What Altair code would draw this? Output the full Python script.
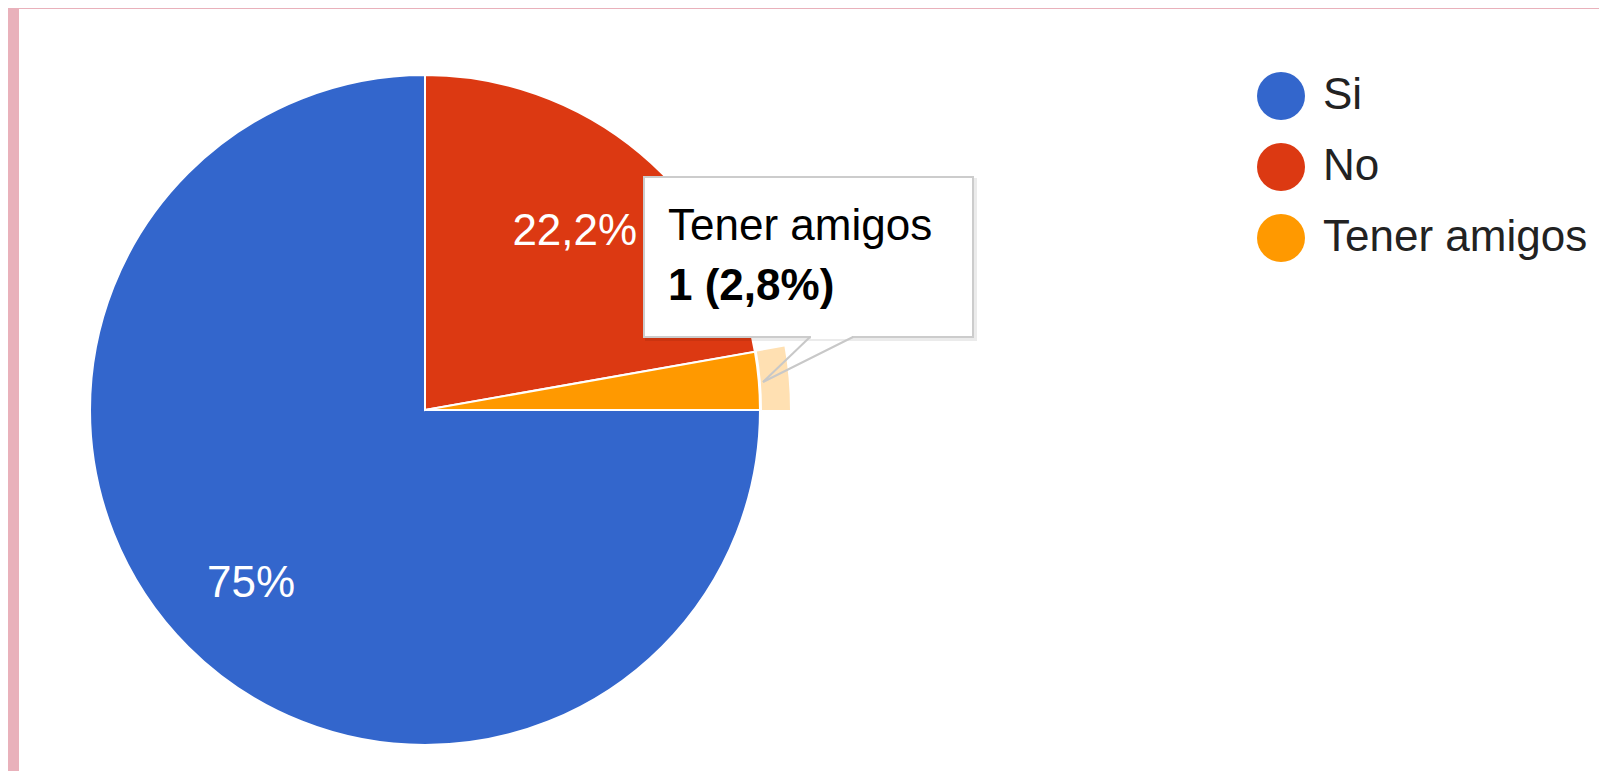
import math
import altair as alt
import pandas as pd

# ---- data ----
categories = ["Si", "No", "Tener amigos"]
counts = [27, 8, 1]
colors = ["#3366cc", "#dc3912", "#ff9900"]

total = sum(counts)


def pct(v):
    p = round(v / total * 100, 1)
    s = f"{p:.1f}".replace(".", ",")
    if s.endswith(",0"):
        s = s[:-2]
    return s + "%"


labels = [pct(v) for v in counts]
tooltip_title = categories[2]
tooltip_value = f"{counts[2]} ({labels[2]})"

df = pd.DataFrame({
    "cat": categories,
    "count": counts,
    "idx": list(range(len(categories))),
    "label": labels,
})

FONT = "Liberation Sans"
W, H = 1591, 763
CX, CY, R = 417, 402, 335

theta = alt.Theta("count:Q", stack=True,
                  scale=alt.Scale(range=[math.pi / 2, math.pi / 2 + 2 * math.pi]))
order = alt.Order("idx:Q")

one = alt.Data(values=[{"a": 1}])

panel = alt.Chart(one).mark_rect(color="white").encode(
    x=alt.value(11), x2=alt.value(W), y=alt.value(1), y2=alt.value(H)
)

pie = alt.Chart(df).mark_arc(outerRadius=R, stroke="white", strokeWidth=2).encode(
    theta=theta,
    order=order,
    x=alt.value(CX), y=alt.value(CY),
    color=alt.Color(
        "cat:N",
        sort=categories,
        scale=alt.Scale(domain=categories, range=colors),
        legend=alt.Legend(
            title=None, orient="none", legendX=1249, legendY=64,
            symbolType="circle", symbolSize=2304, symbolStrokeWidth=0,
            labelFont=FONT, labelFontSize=44, labelColor="#222222",
            labelOffset=18, rowPadding=23, padding=0, labelLimit=600,
        ),
    ),
)

ring = alt.Chart(df).mark_arc(radius=337, radius2=365, color="#ffe0b2").encode(
    theta=theta,
    order=order,
    x=alt.value(CX), y=alt.value(CY),
    opacity=alt.condition(alt.datum.cat == "Tener amigos", alt.value(1), alt.value(0)),
)

lab_si = alt.Chart(df).mark_text(radius=246, font=FONT, fontSize=44, color="white",
                                 align="center", baseline="middle").encode(
    theta=theta, order=order,
    x=alt.value(CX), y=alt.value(CY),
    text="label:N",
    opacity=alt.condition(alt.datum.cat == "Si", alt.value(1), alt.value(0)),
)
lab_no = alt.Chart(df).mark_text(radius=233, font=FONT, fontSize=44, color="white",
                                 align="center", baseline="middle").encode(
    theta=theta, order=order,
    x=alt.value(CX), y=alt.value(CY),
    text="label:N",
    opacity=alt.condition(alt.datum.cat == "No", alt.value(1), alt.value(0)),
)

# tooltip box
BX1, BY1, BX2, BY2 = 636, 169, 965, 329
shadow = alt.Chart(one).mark_rect(color="#000000", opacity=0.08).encode(
    x=alt.value(BX1 + 1), x2=alt.value(BX2 + 4), y=alt.value(BY1 + 1), y2=alt.value(BY2 + 4)
)
box = alt.Chart(one).mark_rect(fill="white", stroke="#cccccc", strokeWidth=2).encode(
    x=alt.value(BX1), x2=alt.value(BX2), y=alt.value(BY1), y2=alt.value(BY2)
)
erase = alt.Chart(one).mark_rule(color="white", strokeWidth=4).encode(
    x=alt.value(803), x2=alt.value(844), y=alt.value(BY2), y2=alt.value(BY2)
)
ptr1 = alt.Chart(one).mark_rule(color="#c8c8c8", strokeWidth=2).encode(
    x=alt.value(802), x2=alt.value(755), y=alt.value(BY2), y2=alt.value(374)
)
ptr2 = alt.Chart(one).mark_rule(color="#c8c8c8", strokeWidth=2).encode(
    x=alt.value(845), x2=alt.value(755), y=alt.value(BY2), y2=alt.value(374)
)
tip_t1 = alt.Chart(alt.Data(values=[{"t": tooltip_title}])).mark_text(
    font=FONT, fontSize=44, color="#000000", align="left", baseline="alphabetic"
).encode(x=alt.value(660), y=alt.value(232), text="t:N")
tip_t2 = alt.Chart(alt.Data(values=[{"t": tooltip_value}])).mark_text(
    font=FONT, fontSize=44, fontWeight="bold", color="#000000", align="left", baseline="alphabetic"
).encode(x=alt.value(660), y=alt.value(292), text="t:N")

chart = alt.layer(
    panel, pie, ring, lab_si, lab_no, shadow, box, erase, ptr1, ptr2, tip_t1, tip_t2
).properties(
    width=W, height=H,
    autosize=alt.AutoSizeParams(type="none"),
    padding=0,
    background="#e9b1bb",
).configure_view(stroke=None)

chart.save("out.html", embed_options={"renderer": "svg", "actions": False})
